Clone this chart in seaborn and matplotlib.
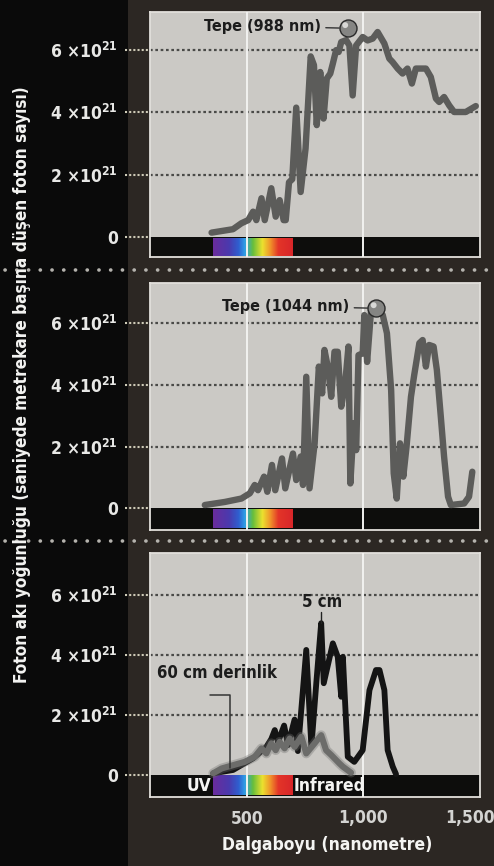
import numpy as np
import pandas as pd
import seaborn as sns
import matplotlib
matplotlib.use("Agg")
import matplotlib.pyplot as plt
from matplotlib.patches import Rectangle
from matplotlib.lines import Line2D
from matplotlib.colors import LinearSegmentedColormap
from matplotlib.transforms import ScaledTranslation

# ---------------- data (flux in units of 10^21) ----------------
wl_surface = [349, 441, 477, 506, 527, 541, 563, 577, 605, 624, 641, 658, 667, 681,
              695, 712, 731, 752, 774, 788, 800, 815, 829, 843, 858, 869, 883, 894,
              905, 926, 940, 954, 969, 997, 1018, 1040, 1061, 1090, 1111, 1125, 1147,
              1168, 1189, 1208, 1225, 1268, 1289, 1311, 1325, 1346, 1368, 1389, 1439,
              1482]
flux_surface = [0.14, 0.25, 0.44, 0.54, 0.81, 0.54, 1.24, 0.54, 1.56, 0.65, 1.18, 0.54,
                0.54, 1.75, 1.85, 4.14, 1.44, 2.83, 5.78, 5.50, 3.58, 5.28, 3.79, 5.07,
                5.23, 5.55, 5.98, 5.92, 6.24, 6.30, 6.13, 4.53, 6.13, 6.40, 6.29, 6.35,
                6.56, 6.19, 5.71, 5.60, 5.39, 5.23, 5.39, 4.91, 5.39, 5.39, 5.12, 4.43,
                4.32, 4.48, 4.21, 4.00, 4.00, 4.19]

wl_sea = [320, 406, 477, 513, 534, 548, 574, 588, 608, 622, 651, 665, 698, 712, 731,
          741, 755, 769, 791, 809, 823, 833, 850, 862, 876, 890, 905, 922, 936, 944,
          959, 969, 979, 997, 1004, 1016, 1033, 1054, 1083, 1101, 1119, 1130, 1143,
          1157, 1171, 1185, 1204, 1218, 1240, 1254, 1268, 1282, 1301, 1315, 1332,
          1346, 1363, 1375, 1432, 1453, 1467]
flux_sea = [0.11, 0.21, 0.32, 0.49, 0.76, 0.59, 1.03, 0.54, 1.41, 0.59, 1.62, 0.65,
            1.78, 0.92, 1.68, 0.76, 4.27, 0.65, 2.11, 4.60, 3.73, 5.14, 4.49, 3.62,
            5.08, 5.08, 3.30, 4.06, 5.25, 0.81, 2.76, 1.89, 4.97, 5.03, 6.27, 4.75,
            6.43, 6.49, 6.27, 5.68, 3.84, 1.14, 0.32, 2.11, 1.03, 2.00, 3.62, 4.33,
            5.36, 5.46, 4.60, 5.30, 5.25, 4.49, 2.97, 1.68, 0.38, 0.11, 0.16, 0.38,
            1.19]

wl_5cm = [356, 441, 527, 584, 605, 620, 634, 660, 677, 705, 719, 755, 777, 798, 812,
          819, 830, 869, 890, 905, 912, 933, 961, 997, 1026, 1054, 1069, 1090, 1104,
          1126, 1140]
flux_5cm = [0.06, 0.17, 0.56, 0.94, 1.20, 1.50, 1.10, 1.65, 1.00, 1.85, 0.80, 4.17,
            0.94, 3.06, 4.40, 5.06, 3.06, 4.39, 3.94, 2.61, 3.94, 0.61, 0.44, 0.83,
            2.83, 3.50, 3.50, 2.83, 0.83, 0.28, 0.03]

wl_60cm = [356, 392, 441, 491, 534, 563, 584, 605, 624, 641, 662, 684, 705, 734, 755,
           791, 819, 840, 862, 897, 912, 947]
flux_60cm = [0.06, 0.22, 0.33, 0.44, 0.61, 0.89, 0.72, 1.06, 0.83, 1.11, 0.89, 1.22,
             0.94, 1.28, 0.72, 1.06, 1.33, 0.83, 0.67, 0.39, 0.28, 0.08]

peak_surface = (932, 6.68)
peak_sea = (1054, 6.49)
peak_labels = ["Tepe (988 nm)", "Tepe (1044 nm)"]

ytick_vals = [0, 2, 4, 6]
ytick_labels = ["0", r"2 ×10$^{\mathbf{21}}$", r"4 ×10$^{\mathbf{21}}$", r"6 ×10$^{\mathbf{21}}$"]
xtick_vals = [500, 1000, 1500]
xtick_labels = ["500", "1,000", "1,500"]
visible_range = (355, 697)

ylabel = "Foton akı yoğunluğu (saniyede metrekare başına düşen foton sayısı)"
xlabel = "Dalgaboyu (nanometre)"

# ---------------- style ----------------
sns.set_theme(style="white")
plt.rcParams["font.family"] = ["DejaVu Sans"]
plt.rcParams["font.stretch"] = "condensed"
plt.rcParams["mathtext.fontset"] = "dejavusans"

W, H = 494, 866
fig = plt.figure(figsize=(W / 100, H / 100), dpi=100)
fig.patch.set_facecolor("#2c2723")
fig.patches.append(Rectangle((0, 0), 128 / W, 1, transform=fig.transFigure,
                             facecolor="#0a0a0a", edgecolor="none", zorder=-1))

# dotted separators
for ysep in [270, 541]:
    fig.lines.append(Line2D([5 / W, 1.0], [1 - ysep / H] * 2, transform=fig.transFigure,
                            color="#b5b3ae", lw=2.6, ls=(0, (0.05, 3.2)),
                            dash_capstyle="round", zorder=-0.5))

panel_px = [(12, 257, -0.64, 7.2), (283, 530, -0.70, 7.31), (553, 797, -0.73, 7.4)]
x0px, x1px = 150, 480
xlim = (85, 1500)

spec_cmap = LinearSegmentedColormap.from_list("spec", [
    (0.0, "#6a2c9c"), (0.2, "#4a3aae"), (0.32, "#2f5fd0"), (0.4, "#2f9fe6"),
    (0.5, "#66be3c"), (0.62, "#ece12e"), (0.72, "#f0922a"), (0.82, "#e33428"),
    (1.0, "#d8262a")])

axes = []
for top, bot, ylo, yhi in panel_px:
    ax = fig.add_axes([x0px / W, 1 - bot / H, (x1px - x0px) / W, (bot - top) / H])
    ax.set_facecolor("#cbc9c5")
    ax.set_xlim(*xlim)
    ax.set_ylim(ylo, yhi)
    for s in ax.spines.values():
        s.set_color("#e2e0dc")
        s.set_linewidth(1.3)
    ax.add_patch(Rectangle((xlim[0], ylo), xlim[1] - xlim[0], -ylo, facecolor="#0d0d0c",
                           edgecolor="none", zorder=1))
    grad = np.linspace(0, 1, 256).reshape(1, -1)
    ax.imshow(grad, cmap=spec_cmap, aspect="auto", zorder=2,
              extent=[visible_range[0], visible_range[1], ylo * 0.93, ylo * 0.05])
    for v in ytick_vals[1:]:
        ax.axhline(v, color="#4a4a48", lw=1.6, ls=(0, (1.2, 1.2)), zorder=1.5)
    for v in xtick_vals[:2]:
        ax.axvline(v, color="#f2f2f0", lw=1.4, zorder=3)
    for v in ytick_vals:
        ax.plot([-0.076, 0], [v, v], transform=ax.get_yaxis_transform(), clip_on=False,
                color="#cfcbb8", lw=1.5, ls=(0, (1, 1)), zorder=1)
    ax.set_yticks(ytick_vals, ytick_labels)
    ax.tick_params(axis="y", length=0, pad=23, labelsize=12.5, labelcolor="#e8e8e6")
    for lab in ax.get_yticklabels():
        lab.set_fontweight("bold")
    ax.set_xticks([])
    ax.grid(False)
    axes.append(ax)

ax1, ax2, ax3 = axes

# curves
sns.lineplot(x=wl_surface, y=flux_surface, ax=ax1, color="#5c5c5a", lw=4.6,
             estimator=None, zorder=4)
sns.lineplot(x=wl_sea, y=flux_sea, ax=ax2, color="#5c5c5a", lw=4.6,
             estimator=None, zorder=4)
sns.lineplot(x=wl_5cm, y=flux_5cm, ax=ax3, color="#141414", lw=4.2,
             estimator=None, zorder=4)
sns.lineplot(x=wl_60cm, y=flux_60cm, ax=ax3, color="#6f6f6d", lw=7.0, alpha=0.35,
             estimator=None, zorder=5)
sns.lineplot(x=wl_60cm, y=flux_60cm, ax=ax3, color="#6c6c6a", lw=4.4,
             estimator=None, zorder=5)
for ax in axes:
    ax.set_xlabel("")
    ax.set_ylabel("")

# peak markers and labels
for ax, pk, lab in [(ax1, peak_surface, peak_labels[0]), (ax2, peak_sea, peak_labels[1])]:
    ax.scatter([pk[0]], [pk[1]], s=150, color="#858583", edgecolor="#2a2a2a",
               lw=1.0, zorder=7, clip_on=False)
    ax.scatter([pk[0] - 10], [pk[1] + 0.1], s=18, color="#d8d8d6", edgecolor="none",
               zorder=8, clip_on=False)
    ax.annotate(lab, xy=pk, xytext=(-19, 1.5), textcoords="offset points",
                ha="right", va="center", fontsize=11.6, fontweight="bold",
                color="#1c1c1c", zorder=9,
                arrowprops=dict(arrowstyle="-", color="#333333", lw=1.0,
                                shrinkA=1, shrinkB=6))

# panel 3 labels
i_max = int(np.argmax(flux_5cm))
pk5 = (wl_5cm[i_max], flux_5cm[i_max])
ax3.text(pk5[0] + 3, pk5[1] + 0.7, "5 cm", ha="center", va="center",
         fontsize=12, fontweight="bold", color="#1c1c1c", zorder=9)
ax3.plot([pk5[0]] * 2, [pk5[1], pk5[1] + 0.38], color="#222222", lw=1.0, zorder=6)
anchor = (wl_60cm[2] - 14, 0.23)
ax3.plot([anchor[0] - 85, anchor[0], anchor[0]], [2.67, 2.67, anchor[1]],
         color="#333333", lw=1.1, zorder=6)
ax3.text(372, 3.4, "60 cm derinlik", ha="center", va="center", fontsize=12,
         fontweight="bold", color="#1c1c1c", zorder=9)
ylo3 = panel_px[2][2]
ax3.text(visible_range[0] - 6, ylo3 / 2, "UV", ha="right", va="center", fontsize=12.5,
         fontweight="bold", color="#f4f4f2", zorder=9)
ax3.text(visible_range[1] + 3, ylo3 / 2, "Infrared", ha="left", va="center",
         fontsize=12.5, fontweight="bold", color="#f4f4f2", zorder=9)

# x ticks
ax3.set_xticks(xtick_vals, xtick_labels)
ax3.tick_params(axis="x", length=0, pad=9, labelsize=12.5, labelcolor="#d4d4d2")
for lab in ax3.get_xticklabels():
    lab.set_fontweight("bold")
last = ax3.get_xticklabels()[-1]
last.set_transform(last.get_transform() + ScaledTranslation(-0.10, 0, fig.dpi_scale_trans))

fig.text(327 / W, 1 - 845 / H, xlabel, ha="center", va="center", fontsize=12.5,
         fontweight="bold", color="#f4f4f2")
fig.text(22 / W, 1 - 385 / H, ylabel, ha="center", va="center", rotation=90,
         fontsize=12.3, fontweight="bold", color="#f4f4f2")

fig.savefig("out.png", dpi=100, facecolor=fig.get_facecolor())
